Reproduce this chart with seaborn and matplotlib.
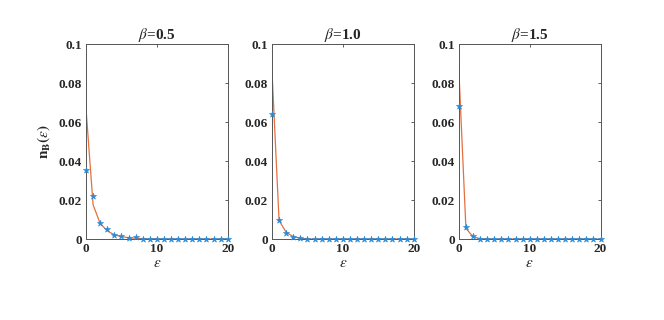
import numpy as np
import pandas as pd
import matplotlib
matplotlib.use("Agg")
import matplotlib.pyplot as plt
import seaborn as sns

# energies
eps = list(range(0, 21))
betas = ["0.5", "1.0", "1.5"]

# simulated (blue stars)
sim_05 = [0.0355, 0.0222, 0.0080, 0.0050, 0.0020, 0.0015, 0.0005, 0.0010, 0.0002, 0.0002, 0.0001,
          0.0001, 0.0001, 0.0001, 0.0001, 0.0001, 0.0001, 0.0001, 0.0001, 0.0001, 0.0001]
sim_10 = [0.0640, 0.0098, 0.0032, 0.0010, 0.0003, 0.0001, 0.0001, 0.0, 0.0, 0.0, 0.0,
          0.0, 0.0, 0.0, 0.0, 0.0, 0.0, 0.0, 0.0, 0.0, 0.0]
sim_15 = [0.0682, 0.0060, 0.0015, 0.0002, 0.0001, 0.0, 0.0, 0.0, 0.0, 0.0, 0.0,
          0.0, 0.0, 0.0, 0.0, 0.0, 0.0, 0.0, 0.0, 0.0, 0.0]

# theory (orange line)
th_05 = [0.0670, 0.0176, 0.0080, 0.0042, 0.0022, 0.0012, 0.0007, 0.0004, 0.0002, 0.0001, 0.0001,
         0.0, 0.0, 0.0, 0.0, 0.0, 0.0, 0.0, 0.0, 0.0, 0.0]
th_10 = [0.0863, 0.0095, 0.0035, 0.0012, 0.0004, 0.0001, 0.0, 0.0, 0.0, 0.0, 0.0,
         0.0, 0.0, 0.0, 0.0, 0.0, 0.0, 0.0, 0.0, 0.0, 0.0]
th_15 = [0.0870, 0.0055, 0.0012, 0.0002, 0.0, 0.0, 0.0, 0.0, 0.0, 0.0, 0.0,
         0.0, 0.0, 0.0, 0.0, 0.0, 0.0, 0.0, 0.0, 0.0, 0.0]

sims = [sim_05, sim_10, sim_15]
ths = [th_05, th_10, th_15]

sns.set_style("white")
plt.rcParams['font.family'] = ['Liberation Serif', 'DejaVu Serif']
plt.rcParams['mathtext.fontset'] = 'stix'

fig = plt.figure(figsize=(6.64, 3.2), dpi=100)
lefts = [0.1295, 0.4096, 0.691]
blue = '#2b8ad6'
orange = '#e5703f'

for i, (b, sim, th) in enumerate(zip(betas, sims, ths)):
    ax = fig.add_axes([lefts[i], 0.253, 0.2135, 0.609])
    df = pd.DataFrame({'eps': eps, 'sim': sim, 'th': th})
    sns.lineplot(data=df, x='eps', y='th', color=orange, linewidth=0.9, ax=ax)
    sns.scatterplot(data=df, x='eps', y='sim', marker='*', s=22, color=blue,
                    edgecolor=blue, linewidth=0.4, ax=ax, zorder=3, clip_on=False)
    ax.set_xlim(0, 20)
    ax.set_ylim(0, 0.1)
    ax.set_xticks([0, 10, 20])
    ax.set_yticks([0, 0.02, 0.04, 0.06, 0.08, 0.1])
    ax.set_yticklabels(['0', '0.02', '0.04', '0.06', '0.08', '0.1'])
    ax.tick_params(direction='in', length=2.5, width=0.6, top=True, right=True,
                   labelsize=9.5, pad=3, color='#444444')
    for lab in ax.get_xticklabels() + ax.get_yticklabels():
        lab.set_fontweight('bold')
    for sp in ax.spines.values():
        sp.set_color('#555555')
        sp.set_linewidth(0.7)
    ax.set_title(r'$\beta$=' + b, fontsize=11, fontweight='bold', pad=4)
    ax.set_xlabel(r'$\epsilon$', fontsize=11, fontweight='bold', labelpad=1)
    if i == 0:
        ax.set_ylabel(r'$\mathbf{n_B(}\epsilon\mathbf{)}$', fontsize=11, labelpad=5)
    else:
        ax.set_ylabel('')

fig.savefig('out.png', dpi=100, facecolor='white')
